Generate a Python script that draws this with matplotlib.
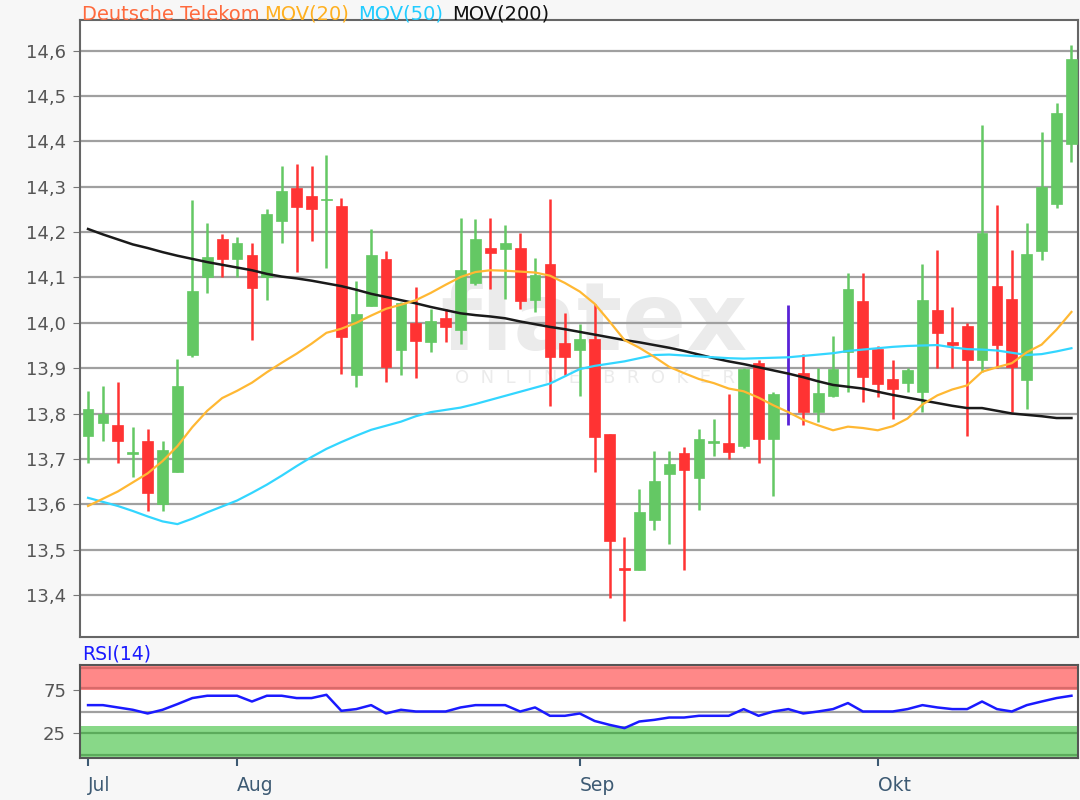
import numpy as np
import matplotlib
matplotlib.use("Agg")
import matplotlib.pyplot as plt

# ── Data ──────────────────────────────────────────────────────────────────
opens = [13.75, 13.78, 13.775, 13.71, 13.74, 13.60, 13.67, 13.93, 14.10, 14.185,
         14.14, 14.15, 14.10, 14.225, 14.298, 14.28, 14.27, 14.258, 13.886, 14.038,
         14.14, 13.941, 14.00, 13.958, 14.01, 13.985, 14.087, 14.165, 14.163, 14.165,
         14.05, 14.13, 13.956, 13.941, 13.965, 13.754, 13.458, 13.455, 13.565, 13.667,
         13.713, 13.658, 13.735, 13.735, 13.728, 13.912, 13.744, np.nan, 13.89, 13.804,
         13.839, 13.936, 14.049, 13.943, 13.877, 13.867, 13.848, 14.028, 13.958, 13.993,
         13.919, 14.081, 14.053, 13.875, 14.158, 14.262, 14.394]
highs = [13.85, 13.86, 13.87, 13.77, 13.765, 13.74, 13.92, 14.27, 14.22, 14.195,
         14.19, 14.175, 14.25, 14.345, 14.35, 14.345, 14.37, 14.275, 14.093, 14.206,
         14.159, 14.045, 14.08, 14.03, 14.03, 14.232, 14.228, 14.232, 14.215, 14.199,
         14.143, 14.273, 14.022, 13.997, 14.041, 13.754, 13.528, 13.634, 13.718, 13.718,
         13.727, 13.766, 13.788, 13.842, 13.90, 13.918, 13.848, np.nan, 13.931, 13.90,
         13.97, 14.111, 14.111, 13.95, 13.918, 13.90, 14.129, 14.16, 14.034, 14.00,
         14.437, 14.261, 14.16, 14.22, 14.42, 14.486, 14.612]
lows = [13.69, 13.74, 13.69, 13.66, 13.585, 13.585, 13.67, 13.925, 14.065, 14.10,
        14.10, 13.963, 14.05, 14.177, 14.112, 14.18, 14.12, 13.888, 13.859, 14.038,
        13.869, 13.886, 13.879, 13.936, 13.958, 13.954, 14.084, 14.074, 14.052, 14.03,
        14.024, 13.817, 13.884, 13.838, 13.671, 13.393, 13.343, 13.455, 13.543, 13.512,
        13.455, 13.587, 13.707, 13.70, 13.725, 13.691, 13.617, np.nan, 13.775, 13.782,
        13.836, 13.848, 13.826, 13.836, 13.788, 13.848, 13.804, 13.90, 13.90, 13.751,
        13.892, 13.90, 13.804, 13.81, 14.139, 14.253, 14.354]
closes = [13.81, 13.80, 13.74, 13.715, 13.625, 13.72, 13.86, 14.07, 14.145, 14.14,
          14.175, 14.077, 14.24, 14.29, 14.255, 14.25, 14.273, 13.968, 14.019, 14.149,
          13.903, 14.043, 13.96, 14.004, 13.99, 14.116, 14.184, 14.154, 14.175, 14.049,
          14.106, 13.924, 13.924, 13.965, 13.748, 13.518, 13.455, 13.582, 13.652, 13.688,
          13.676, 13.744, 13.739, 13.715, 13.899, 13.744, 13.843, np.nan, 13.804, 13.846,
          13.899, 14.074, 13.88, 13.866, 13.853, 13.897, 14.05, 13.977, 13.951, 13.919,
          14.198, 13.951, 13.902, 14.151, 14.299, 14.462, 14.581]

# event marker (purple bar)
event_idx = [47]
event_high = [14.04]
event_low = [13.775]

mov20 = [13.596, 13.612, 13.628, 13.648, 13.668, 13.695, 13.728, 13.770, 13.806, 13.834,
         13.850, 13.868, 13.891, 13.912, 13.932, 13.954, 13.978, 13.987, 14.000, 14.016,
         14.031, 14.040, 14.050, 14.066, 14.084, 14.101, 14.112, 14.116, 14.115, 14.113,
         14.111, 14.104, 14.088, 14.069, 14.042, 14.003, 13.962, 13.945, 13.925, 13.903,
         13.889, 13.876, 13.867, 13.855, 13.849, 13.835, 13.818, 13.803, 13.786, 13.774,
         13.763, 13.771, 13.768, 13.763, 13.772, 13.789, 13.820, 13.840, 13.853, 13.862,
         13.892, 13.902, 13.911, 13.935, 13.952, 13.985, 14.024]
mov50 = [13.614, 13.605, 13.596, 13.585, 13.573, 13.562, 13.556, 13.568, 13.582, 13.595,
         13.608, 13.625, 13.643, 13.663, 13.684, 13.704, 13.722, 13.737, 13.751, 13.764,
         13.773, 13.782, 13.794, 13.803, 13.808, 13.813, 13.821, 13.830, 13.839, 13.848,
         13.857, 13.866, 13.882, 13.898, 13.905, 13.910, 13.915, 13.922, 13.929, 13.930,
         13.928, 13.926, 13.924, 13.922, 13.921, 13.922, 13.923, 13.924, 13.927, 13.930,
         13.933, 13.938, 13.941, 13.944, 13.947, 13.949, 13.950, 13.951, 13.946, 13.942,
         13.941, 13.939, 13.934, 13.929, 13.931, 13.937, 13.944]
mov200 = [14.207, 14.195, 14.184, 14.173, 14.165, 14.156, 14.148, 14.141, 14.134, 14.128,
          14.122, 14.116, 14.108, 14.102, 14.098, 14.093, 14.087, 14.081, 14.073, 14.064,
          14.057, 14.050, 14.043, 14.035, 14.028, 14.021, 14.017, 14.014, 14.010, 14.003,
          13.997, 13.991, 13.986, 13.980, 13.974, 13.968, 13.962, 13.957, 13.951, 13.945,
          13.938, 13.930, 13.922, 13.915, 13.909, 13.902, 13.895, 13.888, 13.880, 13.871,
          13.863, 13.859, 13.855, 13.848, 13.841, 13.835, 13.829, 13.823, 13.817, 13.812,
          13.812, 13.806, 13.800, 13.797, 13.794, 13.790, 13.790]
rsi = [57.4, 57.4, 54.7, 52.0, 47.7, 52.0, 58.6, 65.6, 68.3, 68.3,
       68.3, 61.6, 68.3, 68.3, 65.6, 65.6, 69.4, 50.8, 52.8, 57.4,
       47.7, 52.0, 50.0, 50.0, 50.0, 54.7, 57.4, 57.4, 57.4, 50.0,
       54.7, 45.0, 45.0, 47.7, 39.0, 34.5, 30.7, 38.4, 40.3, 43.0,
       43.0, 45.0, 45.0, 45.0, 52.8, 45.0, 50.0, 52.8, 47.7, 50.0,
       52.8, 59.8, 50.0, 50.0, 50.0, 52.8, 57.4, 54.7, 52.8, 52.8,
       61.6, 52.8, 50.0, 57.4, 61.6, 65.6, 68.3]

month_pos = [0, 10, 33, 53]
month_labels = ["Jul", "Aug", "Sep", "Okt"]
price_ticks = [13.4, 13.5, 13.6, 13.7, 13.8, 13.9, 14.0, 14.1, 14.2, 14.3, 14.4, 14.5, 14.6]

GREEN = "#64c864"
RED = "#ff3333"
W, H = 1080, 800

fig = plt.figure(figsize=(W / 100, H / 100), dpi=100, facecolor="#f7f7f7")
ax = fig.add_axes([80 / W, 1 - 637 / H, 998 / W, 617 / H])
ax2 = fig.add_axes([80 / W, 1 - 758 / H, 998 / W, 93 / H])

x = np.arange(len(closes))
o = np.array(opens); c = np.array(closes); hi = np.array(highs); lo = np.array(lows)
up = c >= o
cols = np.where(up, GREEN, RED)
ok = ~np.isnan(c)

# ── Main panel ───────────────────────────────────────────────────────────
ax.set_facecolor("white")
ax.text(0.515, 0.465, "flatex", transform=ax.transAxes, ha="center", va="baseline",
        fontsize=68, fontweight="bold", color="#ebebeb", zorder=0.5)
ax.text(0.516, 0.42, "O  N  L  I  N  E    B  R  O  K  E  R", transform=ax.transAxes,
        ha="center", va="center", fontsize=13, color="#ebebeb", zorder=0.5)

for yv in price_ticks:
    ax.axhline(yv, color="#a0a0a0", lw=1.6, zorder=1)

ax.vlines(x[ok], lo[ok], hi[ok], colors=cols[ok], lw=1.8, zorder=3)
body = np.maximum(np.abs(c - o), 0.004)
ax.bar(x[ok], body[ok], bottom=np.minimum(o, c)[ok], width=0.72,
       color=cols[ok], edgecolor=cols[ok], lw=0.5, zorder=4)
ax.vlines(event_idx, event_low, event_high, colors="#5a22d6", lw=2, zorder=4)

ax.plot(x, mov200, color="#1a1a1a", lw=1.8, zorder=5)
ax.plot(x, mov50, color="#33d6ff", lw=1.6, zorder=5)
ax.plot(x, mov20, color="#ffb833", lw=1.6, zorder=5)

ax.set_xlim(-0.54, 66.44)
ax.set_ylim(13.307, 14.668)
ax.set_yticks(price_ticks)
ax.set_yticklabels([f"{v:.1f}".replace(".", ",") for v in price_ticks])
ax.set_xticks([])
ax.tick_params(axis="y", length=5, color="#777777", labelcolor="#555555",
               labelsize=13, pad=5)
for s in ax.spines.values():
    s.set_color("#666666"); s.set_linewidth(1.5)

title_parts = [("Deutsche Telekom", "#ff6a3d", 82), ("MOV(20)", "#ffb020", 264),
               ("MOV(50)", "#22ccff", 358), ("MOV(200)", "#111111", 452)]
for txt, col, px in title_parts:
    fig.text(px / W, 1 - 14 / H, txt, color=col, fontsize=14, va="center", ha="left")

# ── RSI panel ────────────────────────────────────────────────────────────
ax2.set_facecolor("white")
ax2.axhspan(75, 110, color="#ff8888", lw=0, zorder=1)
ax2.axhspan(-10, 33, color="#88d888", lw=0, zorder=1)
for yv, col in [(100, "#d96a6a"), (77, "#d96a6a"), (25, "#5cab5c"), (-1, "#5cab5c")]:
    ax2.axhline(yv, color=col, lw=1.6, zorder=2)
ax2.axhline(50, color="#a0a0a0", lw=1.6, zorder=2)
ax2.plot(x, rsi, color="#1a1aff", lw=1.8, zorder=5)
ax2.set_xlim(-0.54, 66.44)
ax2.set_ylim(-4, 104)
ax2.set_yticks([25, 75])
ax2.set_xticks(month_pos)
ax2.set_xticklabels(month_labels)
ax2.tick_params(axis="y", length=5, color="#777777", labelcolor="#555555",
                labelsize=13, pad=5)
ax2.tick_params(axis="x", length=6, width=1.5, color="#3d5a73", labelcolor="#3d5a73",
                labelsize=13.5, pad=7)
for lab in ax2.get_xticklabels():
    lab.set_horizontalalignment("left")
for s in ax2.spines.values():
    s.set_color("#555555"); s.set_linewidth(1.5)
fig.text(82 / W, 1 - 654 / H, "RSI(14)", color="#1a1aff", fontsize=13.5,
         va="center", ha="left")

fig.savefig("out.png", dpi=100, facecolor=fig.get_facecolor())
plt.close(fig)
